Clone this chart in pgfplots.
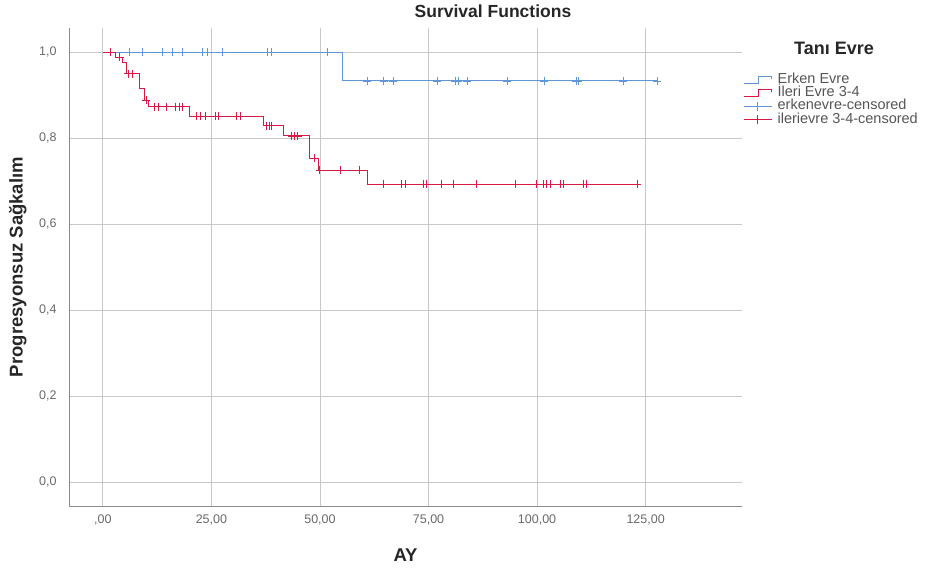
\documentclass[border=0pt]{standalone}
\usepackage{fontspec}
\setmainfont{Liberation Sans}
\usepackage{pgfplots}
\pgfplotsset{compat=1.18}
\definecolor{kmblue}{RGB}{95,150,215}
\definecolor{kmred}{RGB}{215,25,70}
\definecolor{gridc}{RGB}{200,200,200}
\definecolor{axisc}{RGB}{140,140,140}
\definecolor{tickc}{RGB}{105,105,105}
\definecolor{legc}{RGB}{85,85,85}
\begin{document}
\begin{tikzpicture}
\path[use as bounding box] (0pt,0pt) rectangle (929pt,-568pt);
\begin{axis}[
  at={(69pt,-28pt)}, anchor=north west,
  scale only axis, width=673pt, height=478pt,
  xmin=-7.8, xmax=147.2, ymin=-0.056, ymax=1.056,
  axis x line*=bottom, axis y line*=left,
  axis line style={axisc, line width=1pt, -},
  xtick={0,25,50,75,100,125},
  xticklabels={{,00},{25,00},{50,00},{75,00},{100,00},{125,00}},
  ytick={0,0.2,0.4,0.6,0.8,1},
  yticklabels={{0,0},{0,2},{0,4},{0,6},{0,8},{1,0}},
  major tick length=0pt,
  grid=major, major grid style={gridc, line width=0.8pt},
  tick label style={font=\fontsize{12.5}{14}\selectfont, text=tickc},
  xticklabel style={yshift=-5pt},
  yticklabel style={xshift=-9pt},
  xlabel={AY}, ylabel={Progresyonsuz Sağkalım},
  label style={font=\bfseries\fontsize{18.5}{20}\selectfont, text=black!85},
  xlabel style={at={(axis description cs:0.5,-0.102)}, anchor=center},
  ylabel style={at={(axis description cs:-0.076,0.5)}, anchor=center},
  every axis title shift=0pt,
  title={Survival Functions},
  title style={at={(axis description cs:0.630,1.021)}, anchor=base, font=\bfseries\fontsize{17.5}{20}\selectfont, text=black!85},
  legend style={draw=none, fill=none, at={(axis description cs:1.0015,0.9056)}, anchor=north west,
    inner sep=0pt, row sep=0pt, column sep=4pt, font=\fontsize{14.5}{14.5}\selectfont, text=legc,
    nodes={inner sep=1.6pt, text height=8.5pt, text depth=1.5pt}},
  legend cell align=left,
]
% Erken Evre survival step
\addplot[kmblue, line width=0.8pt, const plot,
  legend image code/.code={\draw[kmblue, line width=0.8pt] (0pt,-3pt) -- (15pt,-3pt) -- (15pt,4pt) -- (28pt,4pt) -- (28pt,1pt);}]
  coordinates {(0,1) (55.1,0.933) (127.6,0.933)};
\addlegendentry{Erken Evre}
% Ileri Evre survival step
\addplot[kmred, line width=0.8pt, const plot,
  legend image code/.code={\draw[kmred, line width=0.8pt] (0pt,-3pt) -- (15pt,-3pt) -- (15pt,4pt) -- (28pt,4pt) -- (28pt,1pt);}]
  coordinates {(0,1) (2.9,0.988) (4.6,0.975) (5.4,0.95) (8.5,0.916) (9.5,0.888) (10.4,0.873)
    (20,0.851) (36.9,0.829) (41.5,0.805) (47.5,0.753) (49.6,0.725) (60.9,0.692) (123,0.692)};
\addlegendentry{İleri Evre 3-4}
% Erken censored
\addplot[kmblue, only marks, mark=+, mark size=4pt, line width=0.7pt,
  legend image code/.code={\draw[kmblue, line width=0.8pt] (0pt,0pt) -- (28pt,0pt); \draw[kmblue, line width=0.8pt] (14pt,-4.5pt) -- (14pt,4.5pt);}]
  coordinates {(6.2,1) (9.2,1) (13.8,1) (15.9,1) (18.4,1) (22.8,1) (24,1) (27.6,1) (37.8,1) (38.9,1) (51.6,1)
    (60.8,0.933) (64.7,0.933) (66.8,0.933) (77,0.933) (81.1,0.933) (81.8,0.933) (83.9,0.933) (93.1,0.933)
    (101.7,0.933) (109,0.933) (109.4,0.933) (119.8,0.933) (127.6,0.933)};
\addlegendentry{erkenevre-censored}
% Ileri censored
\addplot[kmred, only marks, mark=+, mark size=4pt, line width=0.7pt,
  legend image code/.code={\draw[kmred, line width=0.8pt] (0pt,0pt) -- (28pt,0pt); \draw[kmred, line width=0.8pt] (14pt,-4.5pt) -- (14pt,4.5pt);}]
  coordinates {(1.7,1) (3.9,0.988) (5.8,0.95) (6.7,0.95) (10,0.888)
    (11.8,0.873) (12.7,0.873) (14.7,0.873) (16.6,0.873) (17.7,0.873) (18.3,0.873)
    (21.6,0.851) (22.4,0.851) (23.5,0.851) (26,0.851) (26.5,0.851) (30.8,0.851) (31.6,0.851)
    (37.7,0.829) (38.3,0.829) (38.8,0.829) (43.5,0.805) (44.2,0.805) (44.9,0.805)
    (48.8,0.753) (49.9,0.725) (54.8,0.725) (59,0.725)
    (64.7,0.692) (68.8,0.692) (69.6,0.692) (73.8,0.692) (74.6,0.692) (77.9,0.692) (80.7,0.692)
    (86,0.692) (94.9,0.692) (99.9,0.692) (101.4,0.692) (102.2,0.692) (103,0.692) (105.3,0.692)
    (106,0.692) (110.7,0.692) (111.4,0.692) (123,0.692)};
\addlegendentry{ilerievre 3-4-censored}
\end{axis}
\node[font=\bfseries\fontsize{18}{19}\selectfont, text=black!85] at (834pt,-48pt) {Tanı Evre};
\end{tikzpicture}
\end{document}
